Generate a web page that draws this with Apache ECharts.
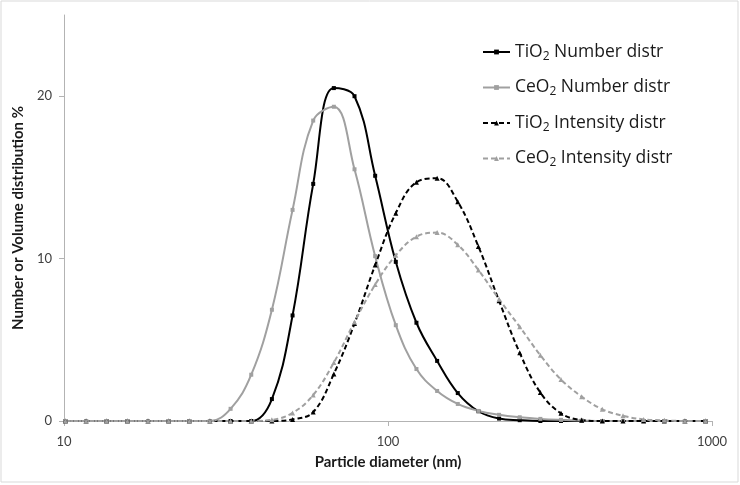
<!DOCTYPE html>
<html>
<head>
<meta charset="utf-8">
<script src="https://cdn.jsdelivr.net/npm/echarts@6/dist/echarts.min.js"></script>
<style>html,body{margin:0;padding:0;background:#fff}#c{width:740px;height:485px}</style>
</head>
<body>
<div id="c"></div>
<script>
// Particle size bins (nm)
var diameters = [10.1, 11.7, 13.54, 15.69, 18.17, 21.04, 24.36, 28.21, 32.67, 37.84, 43.82, 50.75, 58.77, 68.06, 78.82, 91.28, 105.7, 122.4, 141.8, 164.2, 190.1, 220.2, 255.0, 295.3, 342.0, 396.1, 458.7, 531.2, 615.1, 712.4, 825.0, 955.4];
var tio2Number = [0, 0, 0, 0, 0, 0, 0, 0, 0, 0, 1.35, 6.5, 14.6, 20.5, 20.0, 15.1, 9.8, 6.05, 3.7, 1.72, 0.6, 0.15, 0.05, 0, 0, 0, 0, 0, 0, 0, 0, 0];
var ceo2Number = [0, 0, 0, 0, 0, 0, 0, 0, 0.75, 2.85, 6.85, 13.0, 18.5, 19.35, 15.5, 10.15, 5.9, 3.2, 1.85, 1.05, 0.62, 0.38, 0.23, 0.13, 0.07, 0.03, 0, 0, 0, 0, 0, 0];
var tio2Intensity = [0, 0, 0, 0, 0, 0, 0, 0, 0, 0, 0, 0.1, 0.55, 2.9, 6.0, 9.6, 12.8, 14.7, 14.95, 13.5, 10.75, 7.4, 4.2, 1.75, 0.47, 0.06, 0, 0, 0, 0, 0, 0];
var ceo2Intensity = [0, 0, 0, 0, 0, 0, 0, 0, 0, 0, 0.07, 0.5, 1.6, 3.6, 6.1, 8.4, 10.2, 11.35, 11.6, 10.85, 9.3, 7.5, 5.8, 4.05, 2.55, 1.5, 0.72, 0.32, 0.1, 0.04, 0, 0];
var yTicks = [0, 10, 20];
var seriesNames = ['TiO2 Number distr', 'CeO2 Number distr', 'TiO2 Intensity distr', 'CeO2 Intensity distr'];

function pairs(ys) { return diameters.map(function (d, i) { return [d, ys[i]]; }); }

var FONT = 'Lato';
var LFONT = 'Open Sans';
var chart = echarts.init(document.getElementById('c'), null, { renderer: 'canvas' });

function mk(name, ys, color, dashed, symbol) {
  return {
    name: name, type: 'line', data: pairs(ys), smooth: 0.4,
    symbol: symbol, symbolSize: symbol === 'triangle' ? 5 : 4,
    lineStyle: { color: color, width: 2, type: dashed ? [5, 3] : 'solid' },
    itemStyle: { color: color },
    emphasis: { disabled: true }, animation: false
  };
}

chart.setOption({
  animation: false,
  backgroundColor: '#fff',
  graphic: [{ type: 'rect', shape: { x: 1, y: 1, width: 737, height: 481 }, style: { fill: 'none', stroke: '#d9d9d9', lineWidth: 1 }, silent: true }],
  grid: { left: 64, right: 28, top: 15, bottom: 64, containLabel: false },
  legend: {
    orient: 'vertical', left: 477, top: 38, itemWidth: 27, itemHeight: 6, itemGap: 16,
    data: seriesNames,
    formatter: function (n) { return n.replace(/^(.*?O)2(.*)$/, '{t|$1}{sub|2}{t|$2}'); },
    textStyle: {
      fontFamily: LFONT, fontSize: 17.5, color: '#1a1a1a',
      rich: {
        t: { fontFamily: LFONT, fontSize: 17.5, color: '#1a1a1a' },
        sub: { fontFamily: LFONT, fontSize: 12, color: '#1a1a1a', padding: [9, 0, 0, 0] }
      }
    }
  },
  xAxis: {
    type: 'log', logBase: 10, min: 10, max: 1000,
    name: 'Particle diameter (nm)', nameLocation: 'middle', nameGap: 34,
    nameTextStyle: { fontFamily: FONT, fontSize: 15, fontWeight: 'bold', color: '#1a1a1a' },
    axisLine: { lineStyle: { color: '#b3b3b3', width: 1 } },
    axisTick: { show: true, inside: false, length: 5, lineStyle: { color: '#b3b3b3' } },
    minorTick: { show: false }, splitLine: { show: false },
    axisLabel: { fontFamily: FONT, fontSize: 13, color: '#404040', margin: 14, formatter: function (v) { return String(Math.round(v)); } }
  },
  yAxis: {
    type: 'value', min: 0, max: 25, interval: 10,
    name: 'Number or Volume distribution %', nameLocation: 'middle', nameGap: 33,
    nameTextStyle: { fontFamily: FONT, fontSize: 15, fontWeight: 'bold', color: '#1a1a1a' },
    axisLine: { show: true, lineStyle: { color: '#b3b3b3', width: 1 } },
    axisTick: { show: true, length: 5, lineStyle: { color: '#b3b3b3' }, customValues: yTicks },
    splitLine: { show: false },
    axisLabel: { fontFamily: FONT, fontSize: 13, color: '#404040', margin: 12, customValues: yTicks }
  },
  series: [
    mk(seriesNames[0], tio2Number, '#000000', false, 'rect'),
    mk(seriesNames[1], ceo2Number, '#a0a0a0', false, 'rect'),
    mk(seriesNames[2], tio2Intensity, '#000000', true, 'triangle'),
    mk(seriesNames[3], ceo2Intensity, '#a0a0a0', true, 'triangle')
  ]
});
</script>
</body>
</html>
